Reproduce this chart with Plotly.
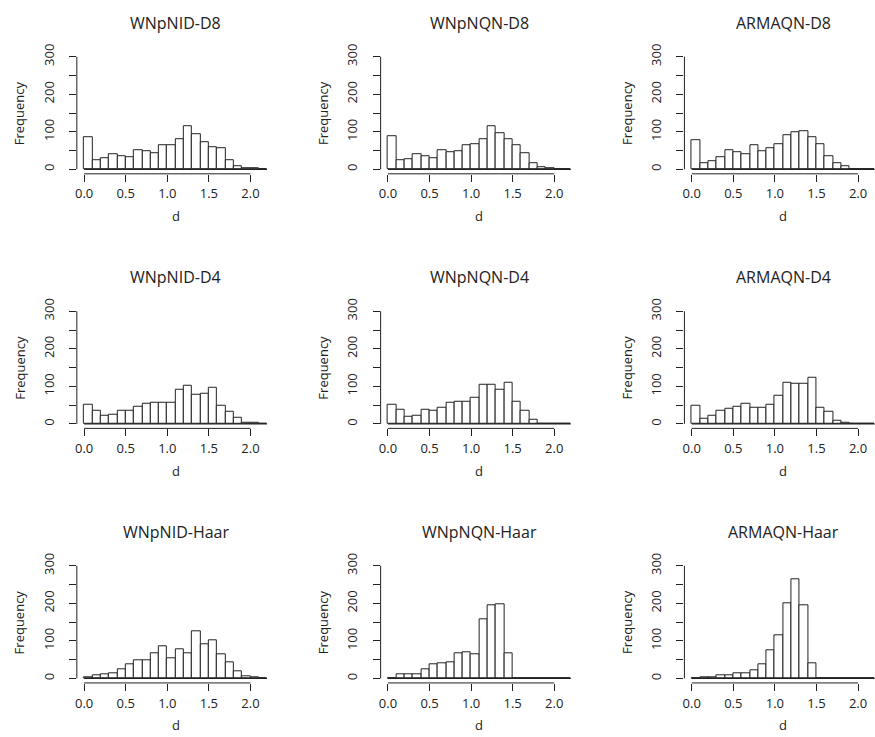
import plotly.graph_objects as go

# ---------------- data ----------------
BREAKS = [0.0, 0.1, 0.2, 0.3, 0.4, 0.5, 0.6, 0.7, 0.8, 0.9, 1.0, 1.1,
          1.2, 1.3, 1.4, 1.5, 1.6, 1.7, 1.8, 1.9, 2.0, 2.1, 2.2]

TITLES = ["WNpNID-D8", "WNpNQN-D8", "ARMAQN-D8",
          "WNpNID-D4", "WNpNQN-D4", "ARMAQN-D4",
          "WNpNID-Haar", "WNpNQN-Haar", "ARMAQN-Haar"]

WNPNID_D8 = [86, 23, 29, 40, 34, 31, 51, 47, 44, 63, 63, 81, 115, 93, 72, 60, 55, 25, 8, 4, 2, 1]
WNPNQN_D8 = [89, 24, 27, 39, 34, 29, 51, 46, 49, 64, 67, 80, 116, 97, 80, 65, 44, 15, 5, 3, 1, 1]
ARMAQN_D8 = [77, 17, 21, 31, 51, 45, 39, 63, 49, 55, 68, 92, 99, 102, 86, 67, 34, 17, 7, 1, 1, 0]
WNPNID_D4 = [51, 35, 21, 24, 35, 35, 46, 54, 55, 56, 57, 90, 101, 78, 80, 96, 47, 31, 16, 4, 2, 1]
WNPNQN_D4 = [52, 37, 19, 22, 37, 34, 43, 55, 58, 60, 70, 103, 105, 92, 109, 59, 35, 11, 1, 1, 0, 0]
ARMAQN_D4 = [47, 14, 22, 34, 41, 46, 54, 43, 43, 52, 74, 110, 106, 107, 122, 43, 33, 9, 2, 1, 0, 0]
WNPNID_HAAR = [3, 8, 11, 14, 23, 37, 48, 49, 66, 86, 54, 78, 66, 125, 92, 101, 64, 43, 19, 5, 3, 1]
WNPNQN_HAAR = [1, 11, 11, 12, 24, 38, 41, 43, 66, 70, 64, 157, 194, 198, 68, 0, 0, 0, 0, 0, 0, 0]
ARMAQN_HAAR = [1, 4, 3, 8, 7, 14, 13, 21, 38, 75, 115, 199, 263, 196, 41, 0, 0, 0, 0, 0, 0, 0]

COUNTS = [WNPNID_D8, WNPNQN_D8, ARMAQN_D8,
          WNPNID_D4, WNPNQN_D4, ARMAQN_D4,
          WNPNID_HAAR, WNPNQN_HAAR, ARMAQN_HAAR]

X_TICKS = [0.0, 0.5, 1.0, 1.5, 2.0]
X_TICKTEXT = ["0.0", "0.5", "1.0", "1.5", "2.0"]
Y_TICKS = [0, 50, 100, 150, 200, 250, 300]
Y_TICKTEXT = ["0", "", "100", "", "200", "", "300"]
X_LABEL = "d"
Y_LABEL = "Frequency"

# ---------------- layout geometry (pixels) ----------------
W, H = 875, 737
FONT = "Open Sans"
INK = "#222222"
COL_STEP = 304.5
ROW_STEP = 257.7
PX_PER_D = 83.33
PX_PER_F = 0.38
X_RANGE = [-0.088, 2.288]
Y_RANGE = [-12, 312]
LEFT0 = 75.0
ZERO_Y0 = 162.3

centers = [(a + b) / 2 for a, b in zip(BREAKS[:-1], BREAKS[1:])]
widths = [b - a for a, b in zip(BREAKS[:-1], BREAKS[1:])]

fig = go.Figure()
shapes = []
annotations = []
layout_axes = {}

for i, (title, counts) in enumerate(zip(TITLES, COUNTS)):
    r, c = divmod(i, 3)
    n = i + 1
    xa = "x" if n == 1 else f"x{n}"
    ya = "y" if n == 1 else f"y{n}"

    left = LEFT0 + c * COL_STEP
    full_w = (X_RANGE[1] - X_RANGE[0]) * PX_PER_D
    right = left + full_w
    xr = list(X_RANGE)
    if right > W:
        xr[1] = X_RANGE[0] + (W - left) / PX_PER_D
        right_dom = W
    else:
        right_dom = right
    y0 = ZERO_Y0 + r * ROW_STEP
    top = y0 - Y_RANGE[1] * PX_PER_F
    bottom = y0 - Y_RANGE[0] * PX_PER_F

    fig.add_trace(go.Bar(
        x=centers, y=counts, width=widths,
        marker=dict(color="white", line=dict(color=INK, width=1)),
        xaxis=xa, yaxis=ya, showlegend=False, hoverinfo="x+y",
    ))
    fig.add_trace(go.Scatter(
        x=[BREAKS[0], BREAKS[-1]], y=[0, 0], mode="lines",
        line=dict(color=INK, width=1.2),
        xaxis=xa, yaxis=ya, showlegend=False, hoverinfo="skip",
    ))

    common = dict(showgrid=False, zeroline=False, showline=False,
                  ticks="outside", ticklen=7, tickwidth=1, tickcolor=INK,
                  tickfont=dict(family=FONT, size=13, color=INK),
                  fixedrange=True)
    layout_axes["xaxis" if n == 1 else f"xaxis{n}"] = dict(
        domain=[left / W, right_dom / W], range=xr, anchor=ya,
        tickvals=X_TICKS, ticktext=X_TICKTEXT, ticklabelstandoff=1, **common)
    layout_axes["yaxis" if n == 1 else f"yaxis{n}"] = dict(
        domain=[1 - bottom / H, 1 - top / H], range=Y_RANGE, anchor=xa,
        tickvals=Y_TICKS, ticktext=Y_TICKTEXT, tickangle=-90,
        ticklabelstandoff=10, **common)

    # R-style axis lines spanning only the tick range
    shapes.append(dict(type="line", xref=xa, yref=f"{ya} domain",
                       x0=X_TICKS[0], x1=X_TICKS[-1], y0=0, y1=0,
                       line=dict(color=INK, width=1)))
    shapes.append(dict(type="line", xref=f"{xa} domain", yref=ya,
                       x0=0, x1=0, y0=Y_TICKS[0], y1=Y_TICKS[-1],
                       line=dict(color=INK, width=1)))

    cx = (left + full_w / 2) / W
    annotations.append(dict(text=title, xref="paper", yref="paper",
                            x=cx, y=1 - (14 + r * ROW_STEP) / H,
                            xanchor="center", yanchor="middle", showarrow=False,
                            font=dict(family=FONT, size=16, color=INK)))
    annotations.append(dict(text=X_LABEL, xref="paper", yref="paper",
                            x=cx, y=1 - (bottom + 43) / H,
                            xanchor="center", yanchor="middle", showarrow=False,
                            font=dict(family=FONT, size=13, color=INK)))
    annotations.append(dict(text=Y_LABEL, xref="paper", yref="paper",
                            x=(17.3 + c * COL_STEP) / W, y=1 - (top + bottom) / 2 / H,
                            xanchor="center", yanchor="middle", showarrow=False,
                            textangle=-90,
                            font=dict(family=FONT, size=13, color=INK)))

fig.update_layout(
    width=W, height=H,
    margin=dict(l=0, r=0, t=0, b=0),
    paper_bgcolor="white", plot_bgcolor="white",
    shapes=shapes, annotations=annotations,
    bargap=0, **layout_axes,
)

fig.write_html("out.html")

# make sure the page itself adds no offset around the figure
with open("out.html", "r", encoding="utf-8") as fh:
    html = fh.read()
html = html.replace("<head>", "<head><style>html,body{margin:0;padding:0;overflow:hidden;}</style>", 1)
with open("out.html", "w", encoding="utf-8") as fh:
    fh.write(html)
